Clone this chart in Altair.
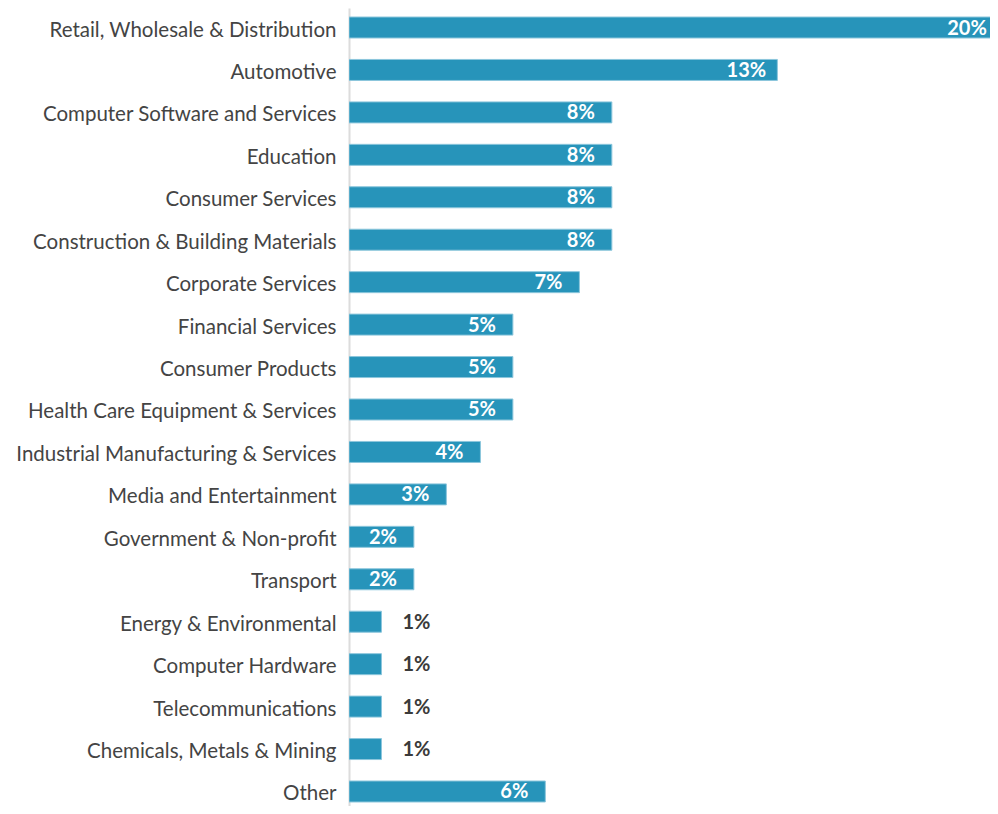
import altair as alt
import pandas as pd

categories = [
    "Retail, Wholesale & Distribution",
    "Automotive",
    "Computer Software and Services",
    "Education",
    "Consumer Services",
    "Construction & Building Materials",
    "Corporate Services",
    "Financial Services",
    "Consumer Products",
    "Health Care Equipment & Services",
    "Industrial Manufacturing & Services",
    "Media and Entertainment",
    "Government & Non-profit",
    "Transport",
    "Energy & Environmental",
    "Computer Hardware",
    "Telecommunications",
    "Chemicals, Metals & Mining",
    "Other",
]
values = [20, 13.2, 8.1, 8.1, 8.1, 8.1, 7.1, 5.05, 5.05, 5.05, 4.05, 3.0, 2.0, 2.0, 1.0, 1.0, 1.0, 1.0, 6.05]
labels = ["20%", "13%", "8%", "8%", "8%", "8%", "7%", "5%", "5%", "5%", "4%", "3%", "2%", "2%", "1%", "1%", "1%", "1%", "6%"]

df = pd.DataFrame({"category": categories, "value": values, "label": labels})
df["inside"] = df["value"] >= 1.5

FONT = "Lato"

y = alt.Y(
    "category:N",
    sort=categories,
    title=None,
    scale=alt.Scale(paddingInner=0.50524, paddingOuter=0.1533, align=0.692),
    axis=alt.Axis(
        ticks=False,
        domain=True,
        domainColor="#dcdcdc",
        domainWidth=2,
        labelFont=FONT,
        labelFontSize=20.5,
        labelColor="#444444",
        labelPadding=13,
        labelOffset=3,
        labelLimit=400,
    ),
)
x = alt.X("value:Q", title=None, scale=alt.Scale(domain=[0, 19.753], nice=False), axis=None)

base = alt.Chart(df)

bars = base.mark_bar(color="#2794BA", stroke="#8cc6dc", strokeWidth=1, clip=True).encode(x=x, y=y)

inside = base.transform_filter("datum.inside").mark_text(
    align="center", baseline="middle", dx=-31, dy=1, font=FONT, fontSize=20, fontWeight="bold", color="white"
).encode(x=x, y=y, text="label:N")

outside = base.transform_filter("!datum.inside").mark_text(
    align="center", baseline="middle", dx=35, dy=1, font=FONT, fontSize=20, fontWeight="bold", color="#3a3a3a"
).encode(x=x, y=y, text="label:N")

chart = (
    alt.layer(bars, inside, outside)
    .properties(
        width=641,
        height=798,
        autosize=alt.AutoSizeParams(type="none"),
        padding={"left": 341, "top": 0, "right": 0, "bottom": 0},
    )
    .configure_view(stroke=None)
)

chart.save("out.html", embed_options={"renderer": "svg", "actions": False})
